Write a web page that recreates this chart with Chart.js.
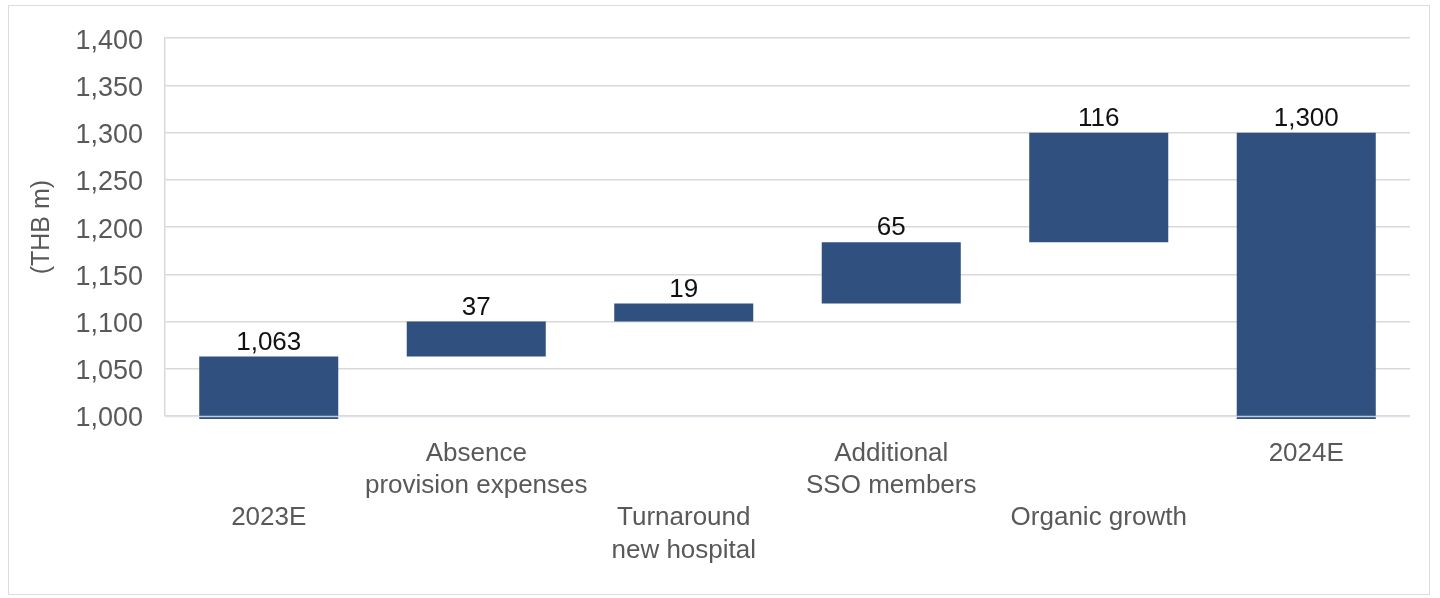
<!DOCTYPE html>
<html>
<head>
<meta charset="utf-8">
<script src="https://cdn.jsdelivr.net/npm/chart.js@4/dist/chart.umd.min.js"></script>
<style>
  html, body { margin: 0; padding: 0; background: #ffffff; }
  #wrap { position: relative; width: 1440px; height: 598px; }
  #frame { position: absolute; left: 8px; top: 5px; width: 1422px; height: 590px;
           border: 1px solid #dcdcdc; box-sizing: border-box; pointer-events: none; }
  canvas { position: absolute; left: 0; top: 0; }
</style>
</head>
<body>
<div id="wrap">
  <canvas id="chart" width="1440" height="598"></canvas>
  <div id="frame"></div>
</div>
<script>
// Bridge steps, THB m
const categories = [
  ['', '', '2023E'],
  ['Absence', 'provision expenses'],
  ['', '', 'Turnaround', 'new hospital'],
  ['Additional', 'SSO members'],
  ['', '', 'Organic growth'],
  ['2024E']
];
const stepValues = [1063, 37, 19, 65, 116, 1300];
const stepKinds = ['total', 'delta', 'delta', 'delta', 'delta', 'total'];
const yTicks = { min: 1000, max: 1400, step: 50 };

// Floating bars: totals rise from zero, deltas start where the previous step ended
const floating = [];
let running = 0;
stepValues.forEach((v, i) => {
  if (stepKinds[i] === 'total') {
    floating.push([0, v]);
    running = v;
  } else {
    floating.push([running, running + v]);
    running += v;
  }
});

const FONT = '"Liberation Sans", Arial, sans-serif';
const fmt = new Intl.NumberFormat('en-US');

// Value labels above each bar
const valueLabels = {
  id: 'valueLabels',
  afterDatasetsDraw(chart) {
    const ctx = chart.ctx;
    const meta = chart.getDatasetMeta(0);
    const yScale = chart.scales.y;
    // baseline grid line stays visible across the bars
    const yb = Math.round(yScale.getPixelForValue(yTicks.min)) + 0.5;
    ctx.save();
    ctx.strokeStyle = 'rgba(220,224,232,0.85)';
    ctx.lineWidth = 1.5;
    ctx.beginPath();
    ctx.moveTo(chart.chartArea.left, yb);
    ctx.lineTo(chart.chartArea.right, yb);
    ctx.stroke();

    ctx.fillStyle = '#111111';
    ctx.font = '26px ' + FONT;
    ctx.textAlign = 'center';
    ctx.textBaseline = 'middle';
    meta.data.forEach((bar, i) => {
      const top = Math.min(bar.y, bar.base);
      ctx.fillText(fmt.format(stepValues[i]), bar.x, top - 14);
    });
    ctx.restore();
  }
};

new Chart(document.getElementById('chart'), {
  type: 'bar',
  data: {
    labels: categories,
    datasets: [{
      data: floating,
      backgroundColor: '#30507f',
      borderWidth: 0,
      barPercentage: 0.67,
      categoryPercentage: 1.0,
      clip: { left: 0, top: 0, right: 0, bottom: 3 }
    }]
  },
  options: {
    responsive: false,
    animation: false,
    devicePixelRatio: 1,
    layout: { padding: { left: 20, right: 30, top: 38, bottom: 0 } },
    plugins: {
      legend: { display: false },
      tooltip: { enabled: false }
    },
    scales: {
      x: {
        grid: { display: false, drawTicks: false },
        border: { display: false },
        ticks: {
          color: '#595959',
          font: { family: FONT, size: 26, lineHeight: 1.235 },
          padding: 22,
          maxRotation: 0,
          autoSkip: false
        },
        afterFit(scale) { scale.height = 182; }
      },
      y: {
        min: yTicks.min,
        max: yTicks.max,
        grid: { color: '#d9d9d9', lineWidth: 1.5, drawTicks: false },
        border: { display: true, color: '#d9d9d9', width: 1.5 },
        ticks: {
          stepSize: yTicks.step,
          color: '#595959',
          font: { family: FONT, size: 27 },
          padding: 22,
          labelOffset: 3,
          callback: (v) => fmt.format(v)
        },
        title: {
          display: true,
          text: '(THB m)',
          color: '#595959',
          font: { family: FONT, size: 25 },
          padding: { top: 7, bottom: 0 }
        },
        afterFit(scale) { scale.width = 145; }
      }
    }
  },
  plugins: [valueLabels]
});
</script>
</body>
</html>
